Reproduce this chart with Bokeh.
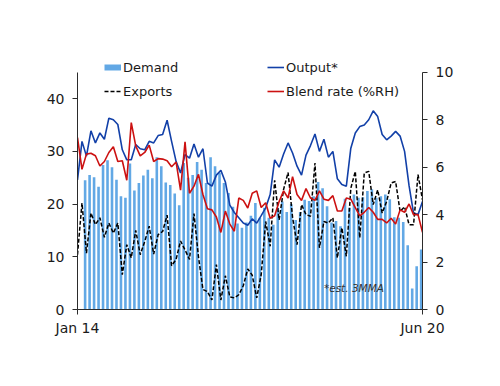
import numpy as np
import pandas as pd
from bokeh.plotting import figure
from bokeh.models import (ColumnDataSource, Range1d, LinearAxis, FixedTicker,
                          Legend, LegendItem, Label)
from bokeh.transform import dodge
from bokeh.embed import file_html
from bokeh.resources import INLINE

nan = float("nan")

# ---- data -------------------------------------------------------------
months = pd.date_range("2014-01-01", periods=78, freq="MS").strftime("%b %y").tolist()

demand = [nan, nan, 24.5, 25.5, 25.1, 23.3, 27.4, 28.3, 27.0, 24.6,
          21.5, 21.2, 27.7, 22.6, 24.0, 25.4, 26.5, 24.9, 28.9, 27.2,
          24.1, 23.6, 22.0, 19.8, 27.8, 25.0, 25.5, 28.0, 26.5, 24.0,
          28.9, 27.2, 25.9, 24.0, 22.1, 19.5, 16.3, 15.5, 16.5, 17.8,
          20.2, 17.4, 19.3, 17.4, 16.1, 19.3, 20.5, 18.5, 20.0, 17.0,
          18.5, 20.8, 20.6, 21.5, 24.2, 23.0, 19.6, 16.5, 16.8, 15.8,
          21.0, 19.3, 21.8, 21.2, 21.3, 22.5, 22.8, 21.2, 21.5, 21.8,
          20.9, 17.5, 17.4, 16.6, 12.2, 4.0, 8.2, 11.4]

output = [24.6, 31.9, 29.1, 33.9, 31.6, 33.5, 32.3, 36.3, 36.0, 35.1,
          30.3, 28.4, 28.4, 31.3, 30.5, 30.3, 31.9, 31.6, 33.0, 33.2,
          35.9, 31.9, 28.1, 25.9, 29.4, 28.7, 31.4, 28.9, 30.5, 24.0,
          23.4, 25.5, 26.4, 24.2, 19.8, 18.4, 17.4, 16.4, 16.0, 17.2,
          16.4, 17.8, 19.3, 21.8, 28.4, 27.0, 29.5, 31.6, 29.7, 27.2,
          25.5, 29.3, 31.1, 33.3, 30.0, 32.3, 28.9, 30.0, 24.8, 23.7,
          23.4, 30.6, 33.5, 34.7, 35.0, 36.0, 37.7, 36.6, 33.2, 32.2,
          32.9, 33.8, 32.9, 30.0, 23.5, 18.3, 18.0, 20.5]

exports = [10.4, 20.2, 10.7, 18.3, 16.1, 17.4, 13.7, 16.4, 14.5, 16.4,
           6.6, 12.3, 9.8, 15.0, 10.4, 12.9, 15.8, 10.5, 14.2, 14.8,
           17.9, 8.3, 9.5, 13.0, 11.3, 9.5, 18.2, 10.0, 3.8, 3.4,
           1.8, 8.5, 1.8, 6.4, 2.4, 2.2, 2.8, 4.5, 7.7, 6.5,
           2.2, 6.6, 16.7, 12.0, 24.5, 17.0, 22.8, 26.0, 17.5, 12.3,
           19.9, 18.0, 17.7, 27.8, 11.7, 16.7, 16.4, 17.4, 9.8, 15.5,
           10.1, 23.0, 26.2, 13.6, 25.9, 26.2, 19.9, 22.7, 18.3, 20.5,
           24.0, 24.3, 18.6, 19.5, 16.1, 16.1, 25.6, 20.8]

blend_rate = [7.25, 5.91, 6.55, 6.59, 6.48, 6.05, 6.24, 6.62, 6.86, 6.24,
              6.27, 5.45, 7.88, 6.90, 6.48, 6.62, 6.93, 6.24, 6.36, 6.34,
              6.27, 6.02, 6.22, 5.03, 7.07, 4.90, 5.20, 5.70, 4.85, 4.25,
              4.20, 3.90, 3.25, 4.15, 3.60, 3.30, 4.70, 4.60, 4.28, 4.90,
              5.00, 4.30, 4.50, 3.85, 3.95, 4.55, 5.00, 4.70, 5.60, 4.85,
              4.60, 5.10, 4.70, 4.60, 5.00, 4.65, 4.60, 4.80, 4.15, 4.15,
              4.70, 4.65, 4.30, 3.95, 4.10, 4.30, 4.10, 3.80, 3.80, 3.65,
              3.85, 3.60, 4.20, 4.10, 4.45, 4.00, 4.00, 3.25]

x_tick_labels = ["Jan 14", "Jun 20"]
left_ticks = [0, 10, 20, 30, 40]
left_max = 45
right_ticks = [0, 2, 4, 6, 8, 10]
right_max = 10
note = "*est. 3MMA"

# ---- styling ----------------------------------------------------------
FONT = "DejaVu Sans"
BAR_C = "#62a8e5"
OUT_C = "#1240a8"
RED_C = "#cc1111"
AX_C = "#2b2b2b"
TXT_C = "#1a1a1a"
HEADROOM = 48 / 45.0  # extra room above the axes so the legend is not clipped

x = list(range(len(months)))
src = ColumnDataSource(dict(x=x, month=months, demand=demand, output=output,
                            exports=exports, blend=blend_rate))

p = figure(width=500, height=386, output_backend="svg", toolbar_location=None,
           x_range=Range1d(0, len(months) - 1),
           y_range=Range1d(0, left_max * HEADROOM),
           min_border_left=77, min_border_right=78, min_border_top=56,
           min_border_bottom=77, background_fill_color="white",
           border_fill_color="white")
p.extra_y_ranges = {"right": Range1d(0, right_max * HEADROOM)}
p.outline_line_color = None
p.xgrid.visible = False
p.ygrid.visible = False

bars = p.vbar(x=dodge("x", -0.3, range=p.x_range), top="demand", width=0.58,
              source=src, fill_color=BAR_C, line_color=None)
out = p.line("x", "output", source=src, line_color=OUT_C, line_width=1.6)
exp = p.line("x", "exports", source=src, line_color="black", line_width=1.5,
             line_dash="4 2")
bl = p.line("x", "blend", source=src, line_color=RED_C, line_width=1.6,
            y_range_name="right")
# legend-only proxy for the flat bar swatch (a NaN point, so nothing is drawn)
swatch = p.line(x=[nan], y=[nan], line_color=BAR_C, line_width=6, line_cap="butt")

# axes
def style_axis(ax):
    ax.axis_line_color = AX_C
    ax.axis_line_width = 1
    ax.major_tick_line_color = AX_C
    ax.major_tick_out = 5
    ax.major_tick_in = 0
    ax.minor_tick_line_color = None
    ax.major_label_text_font = FONT
    ax.major_label_text_font_size = "14px"
    ax.major_label_text_color = TXT_C
    ax.major_label_standoff = 8

xa = p.xaxis[0]
style_axis(xa)
xa.ticker = FixedTicker(ticks=[x[0], x[-1]])
xa.major_label_overrides = {x[0]: x_tick_labels[0], x[-1]: x_tick_labels[1]}
xa.major_label_standoff = 5

ya = p.yaxis[0]
style_axis(ya)
ya.ticker = FixedTicker(ticks=left_ticks)
ya.bounds = (0, left_max)

ra = LinearAxis(y_range_name="right", ticker=FixedTicker(ticks=right_ticks),
                bounds=(0, right_max))
style_axis(ra)
p.add_layout(ra, "right")

# legends
def make_legend(items, loc):
    lg = Legend(items=items, location=loc, orientation="vertical",
                border_line_color=None, background_fill_alpha=0,
                padding=0, margin=0, spacing=8,
                glyph_width=17, glyph_height=16, label_height=16,
                label_standoff=2, label_text_font=FONT,
                label_text_font_size="13px", label_text_color=TXT_C)
    return lg

leg1 = make_legend([LegendItem(label="Demand", renderers=[swatch]),
                    LegendItem(label="Exports", renderers=[exp])], (27, 210))
leg2 = make_legend([LegendItem(label="Output*", renderers=[out]),
                    LegendItem(label="Blend rate (%RH)", renderers=[bl])], (190, 210))
p.add_layout(leg1)
p.add_layout(leg2)

p.add_layout(Label(x=55, y=4.0, text=note, text_font=FONT,
                   text_font_style="italic", text_font_size="10.5px",
                   text_color="#333333", text_baseline="middle"))

open("out.html", "w").write(file_html(p, INLINE))
